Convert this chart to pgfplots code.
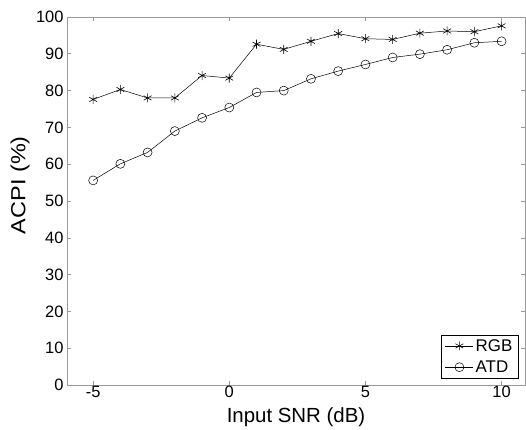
\documentclass[border=0pt]{standalone}
\usepackage{pgfplots}
\pgfplotsset{compat=1.18}
\usepackage{fontspec}
\setmainfont{Liberation Sans}
\begin{document}
\begin{tikzpicture}[x=1bp,y=1bp]
\begin{axis}[
  at={(0,0)}, anchor=south west,
  scale only axis, width=458bp, height=368bp,
  xmin=-5.96, xmax=10.86, ymin=0, ymax=100,
  xtick={-5,0,5,10}, ytick={0,10,...,100},
  tick align=inside, tick pos=both,
  major tick length=4bp,
  axis line style={gray!80, line width=0.8pt},
  every tick/.style={gray!80, line width=0.6pt},
  /pgf/number format/assume math mode=true,
  tick label style={font=\fontsize{16.5}{18}\selectfont, black},
  xticklabel style={yshift=2bp},
  xlabel={Input SNR (dB)}, ylabel={ACPI (\%)},
  label style={font=\fontsize{20.5}{22}\selectfont},
  xlabel style={yshift=-2.5bp},
  ylabel style={at={(axis description cs:-0.1026,0.543)}, anchor=center, rotate=0, xscale=1.15},
  legend style={at={(0.985,0.019)}, anchor=south east, draw=black, line width=0.5pt,
    font=\fontsize{17}{19}\selectfont, inner xsep=3.5bp, inner ysep=2bp, row sep=4bp},
  legend cell align=left,
  legend image code/.code={\draw[#1] (0bp,0bp) -- (14bp,0bp) -- (28bp,0bp); \path[#1,mark repeat=2,mark phase=2] plot coordinates {(0bp,0bp) (14bp,0bp) (28bp,0bp)};},
]
\addplot[black, line width=0.5pt, mark=asterisk, mark size=4.5bp, mark options={line width=0.6pt}] coordinates {
(-5,77.6) (-4,80.3) (-3,78.0) (-2,78.0) (-1,84.1) (0,83.4) (1,92.6) (2,91.2)
(3,93.4) (4,95.5) (5,94.1) (6,93.9) (7,95.6) (8,96.2) (9,96.0) (10,97.6)};
\addlegendentry{RGB}
\addplot[black, line width=0.5pt, mark=o, mark size=4.5bp, mark options={line width=0.5pt}] coordinates {
(-5,55.6) (-4,60.1) (-3,63.2) (-2,69.0) (-1,72.6) (0,75.4) (1,79.5) (2,80.0)
(3,83.2) (4,85.3) (5,87.1) (6,89.0) (7,89.9) (8,91.1) (9,93.0) (10,93.4)};
\addlegendentry{ATD}
\end{axis}
\pgfresetboundingbox
\path (-67bp,-45bp) rectangle (459bp,385bp);
\end{tikzpicture}
\end{document}
